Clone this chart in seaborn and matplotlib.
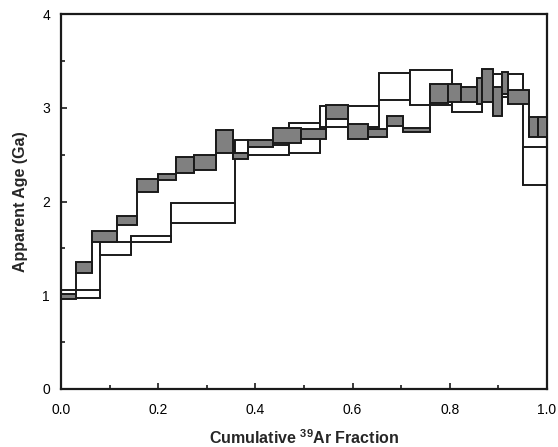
import matplotlib
matplotlib.use("Agg")
import matplotlib.pyplot as plt
import numpy as np
import seaborn as sns
from matplotlib.ticker import MultipleLocator

# Filled spectrum: cumulative 39Ar step edges and age limits (Ga)
gray_edges = [0.000, 0.030, 0.063, 0.115, 0.156, 0.199, 0.236, 0.274, 0.318,
              0.353, 0.385, 0.436, 0.493, 0.545, 0.591, 0.632, 0.671, 0.704,
              0.759, 0.796, 0.824, 0.855, 0.866, 0.888, 0.908, 0.919, 0.962,
              0.982, 1.000]
gray_low = [0.963, 1.24, 1.57, 1.75, 2.10, 2.23, 2.30, 2.34, 2.514, 2.45,
            2.578, 2.62, 2.663, 2.877, 2.663, 2.685, 2.81, 2.738, 3.047,
            3.058, 3.058, 3.037, 3.065, 2.915, 3.143, 3.037, 2.685, 2.685]
gray_high = [1.01, 1.355, 1.685, 1.845, 2.237, 2.29, 2.478, 2.50, 2.763,
             2.514, 2.656, 2.78, 2.77, 3.029, 2.827, 2.773, 2.91, 2.787,
             3.25, 3.25, 3.225, 3.314, 3.413, 3.225, 3.385, 3.19, 2.905,
             2.905]

# Open spectrum
open_edges = [0.000, 0.080, 0.144, 0.226, 0.358, 0.385, 0.469, 0.533,
              0.654, 0.719, 0.804, 0.866, 0.951, 1.000]
open_low = [0.975, 1.43, 1.57, 1.774, 2.514, 2.496, 2.514, 2.798, 3.083,
            3.029, 2.958, 3.12, 2.176]
open_high = [1.056, 1.57, 1.627, 1.987, 2.656, 2.60, 2.84, 3.019, 3.367,
             3.403, 3.10, 3.36, 2.585]


def draw_spectrum(ax, edges, low, high, face, zorder):
    edges = np.asarray(edges)
    low = np.asarray(low)
    high = np.asarray(high)
    left = edges[:-1]
    width = np.diff(edges)
    # connectors between neighbouring steps
    ax.vlines(edges[1:-1],
              np.minimum(low[:-1], low[1:]),
              np.maximum(high[:-1], high[1:]),
              color="#1a1a1a", linewidth=1.4, zorder=zorder)
    ax.bar(left, high - low, width=width, bottom=low, align="edge",
           facecolor=face, edgecolor="#1a1a1a", linewidth=1.4,
           zorder=zorder)


sns.set_style("ticks")
plt.rcParams["font.family"] = ["Liberation Sans", "DejaVu Sans"]
plt.rcParams["mathtext.fontset"] = "custom"
plt.rcParams["mathtext.rm"] = "Liberation Sans"
plt.rcParams["mathtext.bf"] = "Liberation Sans:bold"

fig = plt.figure(figsize=(5.58, 4.47), dpi=100)
ax = fig.add_axes([61 / 558, 1 - 389 / 447, 486 / 558, 375 / 447])

draw_spectrum(ax, open_edges, open_low, open_high, "white", 2)
draw_spectrum(ax, gray_edges, gray_low, gray_high, "#808080", 3)

ax.set_xlim(0, 1)
ax.set_ylim(0, 4)
ax.xaxis.set_major_locator(MultipleLocator(0.2))
ax.xaxis.set_minor_locator(MultipleLocator(0.1))
ax.yaxis.set_major_locator(MultipleLocator(1))
ax.yaxis.set_minor_locator(MultipleLocator(0.5))
ax.set_xticklabels([f"{v:.1f}" for v in ax.get_xticks()])
ax.tick_params(which="both", direction="in", colors="#1a1a1a",
               labelcolor="black", labelsize=10, width=1.2)
ax.tick_params(which="major", length=4)
ax.tick_params(which="minor", length=3)
ax.tick_params(axis="x", pad=10)
ax.tick_params(axis="y", pad=8)

for side in ["left", "right", "top", "bottom"]:
    ax.spines[side].set_visible(True)
    ax.spines[side].set_linewidth(1.6)
    ax.spines[side].set_color("#1a1a1a")

ax.set_xlabel(r"Cumulative $\mathbf{^{39}}$Ar Fraction", fontsize=11.5,
              fontweight="bold", labelpad=8)
ax.set_ylabel("Apparent Age (Ga)", fontsize=11.5, fontweight="bold",
              labelpad=10)

fig.savefig("out.png", dpi=100)
